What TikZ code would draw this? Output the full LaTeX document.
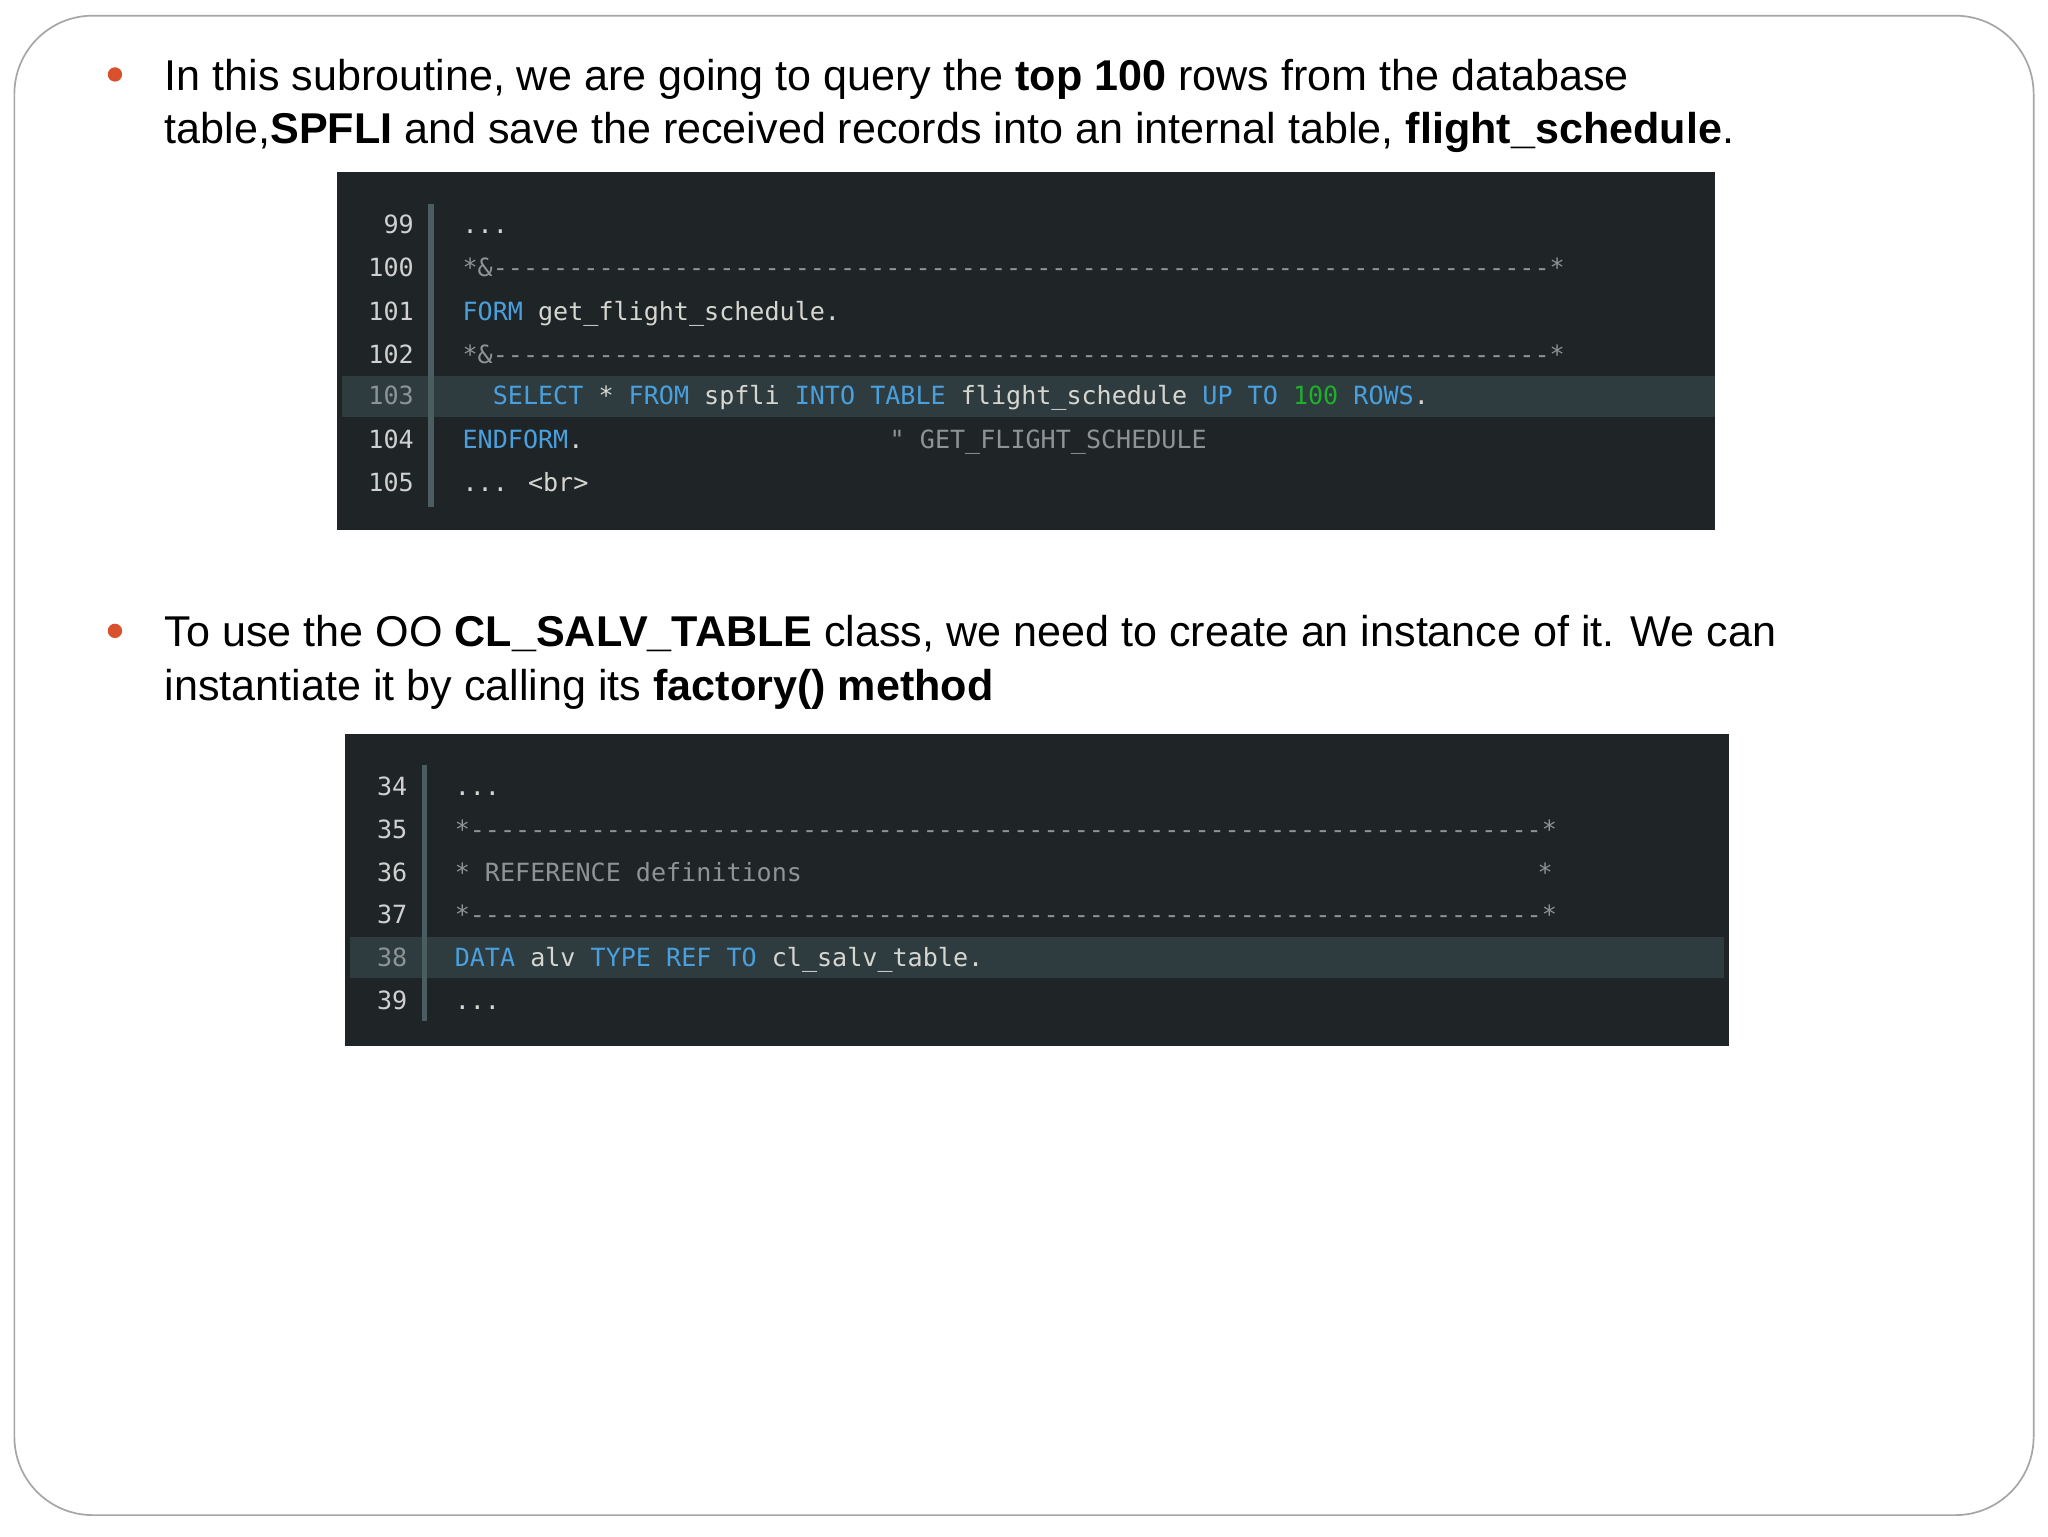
\documentclass[tikz,border=0pt]{standalone}
\usepackage{fontspec}
\setmainfont{Liberation Sans}
\newfontfamily\codefont{DejaVu Sans Mono}
\definecolor{cbg}{HTML}{1F2427}
\definecolor{chl}{HTML}{2E3B3F}
\definecolor{cbar}{HTML}{4A5E62}
\definecolor{cblue}{HTML}{4AA0DC}
\definecolor{cgreen}{HTML}{1FB02A}
\definecolor{ctext}{HTML}{D6D6D0}
\definecolor{ccom}{HTML}{8C9494}
\definecolor{cnum}{HTML}{D0D0D0}
\definecolor{bul}{HTML}{D9512C}
\newcommand{\kw}[1]{\textcolor{cblue}{#1}}
\begin{document}
\begin{tikzpicture}[x=1pt,y=-1pt,
  txt/.style={anchor=base west,inner sep=0pt,font=\fontsize{33}{40}\selectfont},
  cd/.style={anchor=base west,inner sep=0pt,font=\codefont\fontsize{19.2}{22}\selectfont,text=ctext},
  ln/.style={anchor=base east,inner sep=0pt,font=\codefont\fontsize{19.2}{22}\selectfont,text=cnum},
  dot/.style={circle,fill=bul,inner sep=0pt,minimum size=11pt}]
\useasboundingbox (0,0) rectangle (1568,1176);
\fill[white] (0,0) rectangle (1568,1176);
\draw[gray!70,line width=1.3pt,rounded corners=60pt] (11,12) rectangle (1557,1160);
% bullet 1
\node[dot] (b1) at (88,57) {};
\node[txt] (t1) at (126,69) {In this subroutine, we are going to query the \textbf{top 100} rows from the database};
\node[txt] (t2) at (126,110) {table,\textbf{SPFLI} and save the received records into an internal table, \textbf{flight\_schedule}.};
% code 1
\fill[cbg] (258,132) rectangle (1313,406);
\fill[chl] (262,288) rectangle (1313,319);
\fill[cbar] (328,156) rectangle (332,388);
\foreach \n/\y in {99/172,100/205,101/238,102/271,104/336,105/369}{\node[ln] (l\n) at (317,\y+7) {\n};}
\node[ln,text=ccom] (l103) at (317,310) {103};
\node[cd] (c99) at (354,179) {...};
\node[cd,text=ccom] (c100) at (354,212) {*\&----------------------------------------------------------------------*};
\node[cd] (c101) at (354,245) {\kw{FORM} get\_flight\_schedule.};
\node[cd,text=ccom] (c102) at (354,278) {*\&----------------------------------------------------------------------*};
\node[cd] (c103) at (354,310) {\ \ \kw{SELECT} * \kw{FROM} spfli \kw{INTO} \kw{TABLE} flight\_schedule \kw{UP} \kw{TO} \textcolor{cgreen}{100} \kw{ROWS}.};
\node[cd] (c104) at (354,343) {\kw{ENDFORM}.};
\node[cd,text=ccom] (c104b) at (681,343) {" GET\_FLIGHT\_SCHEDULE};
\node[cd] (c105) at (354,376) {... <br>};
% bullet 2
\node[dot] (b2) at (88,483) {};
\node[txt] (t3) at (126,495) {To use the OO \textbf{CL\_SALV\_TABLE} class, we need to create an instance of it. We can};
\node[txt] (t4) at (126,536) {instantiate it by calling its \textbf{factory() method}};
% code 2
\fill[cbg] (264,562) rectangle (1324,801);
\fill[chl] (268,717) rectangle (1320,749);
\fill[cbar] (323,586) rectangle (327,782);
\foreach \n/\y in {34/602,35/635,36/668,37/700,39/766}{\node[ln] (m\n) at (312,\y+7) {\n};}
\node[ln,text=ccom] (m38) at (312,740) {38};
\node[cd] (d34) at (348,609) {...};
\node[cd,text=ccom] (d35) at (348,642) {*-----------------------------------------------------------------------*};
\node[cd,text=ccom] (d36) at (348,675) {* REFERENCE definitions};
\node[cd,text=ccom] (d36b) at (1177,675) {*};
\node[cd,text=ccom] (d37) at (348,707) {*-----------------------------------------------------------------------*};
\node[cd] (d38) at (348,740) {\kw{DATA} alv \kw{TYPE} \kw{REF} \kw{TO} cl\_salv\_table.};
\node[cd] (d39) at (348,773) {...};
\end{tikzpicture}
\end{document}
